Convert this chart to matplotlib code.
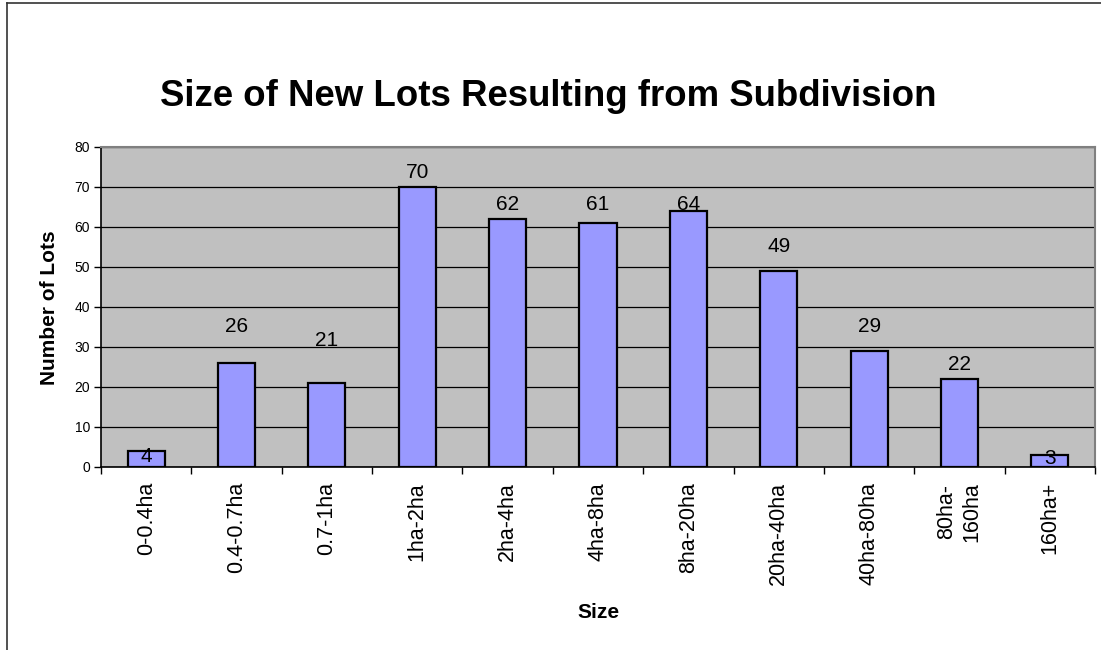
import matplotlib
matplotlib.use("Agg")
import matplotlib.pyplot as plt
from matplotlib.lines import Line2D

plt.rcParams['font.family'] = ['Liberation Sans', 'DejaVu Sans']

categories = ["0-0.4ha", "0.4-0.7ha", "0.7-1ha", "1ha-2ha", "2ha-4ha", "4ha-8ha",
              "8ha-20ha", "20ha-40ha", "40ha-80ha", "80ha-\n160ha", "160ha+"]
values = [4, 26, 21, 70, 62, 61, 64, 49, 29, 22, 3]
yticks = [0, 10, 20, 30, 40, 50, 60, 70, 80]
# vertical offset of each value label above its bar top (pixels)
label_offsets_px = [-5, 36, 42, 15, 14, 18, 6, 24, 25, 15, -4]

W, H, DPI = 1101, 650, 100
fig = plt.figure(figsize=(W / DPI, H / DPI), dpi=DPI)
fig.patch.set_facecolor('white')

ax = fig.add_axes([101 / W, 1 - 467 / H, (1095 - 101) / W, (467 - 147) / H])
ax.set_facecolor('#C0C0C0')

x = list(range(len(categories)))
ax.set_axisbelow(True)
ax.yaxis.grid(True, color='black', linewidth=0.9)
ax.bar(x, values, width=0.41, color='#9999FF', edgecolor='black', linewidth=1.6, zorder=3)

ax.set_xlim(-0.5, len(categories) - 0.5)
ax.set_ylim(0, 80)
ax.set_yticks(yticks)
ax.set_yticklabels([str(t) for t in yticks], fontsize=10)
ax.tick_params(axis='y', direction='out', length=5, width=1, pad=3)

ax.set_xticks([i - 0.5 for i in range(len(categories) + 1)])
ax.set_xticklabels([])
ax.tick_params(axis='x', direction='out', length=5, width=1)
for i, lab in enumerate(categories):
    ax.annotate(lab, xy=(i, 0), xycoords=('data', 'axes fraction'),
                xytext=(0, -15 * 0.72), textcoords='offset points',
                rotation=90, ha='center', va='top', fontsize=15.5,
                multialignment='center', linespacing=1.3)

for spine in ['top', 'right']:
    ax.spines[spine].set_color('#808080')
    ax.spines[spine].set_linewidth(1.5)
for spine in ['left', 'bottom']:
    ax.spines[spine].set_color('black')
    ax.spines[spine].set_linewidth(1.2)

for i, v in enumerate(values):
    ax.annotate(str(v), xy=(i, v), xytext=(0, label_offsets_px[i] * 0.72),
                textcoords='offset points', ha='center', va='center',
                fontsize=15, zorder=4)

fig.text(548 / W, 1 - 96 / H, "Size of New Lots Resulting from Subdivision",
         ha='center', va='center', fontsize=26.4, fontweight='bold')
fig.text(50 / W, 1 - 308 / H, "Number of Lots", rotation=90,
         ha='center', va='center', fontsize=15, fontweight='bold')
fig.text(598 / W, 1 - 612 / H, "Size", ha='center', va='center',
         fontsize=15, fontweight='bold')

# chart frame (left and top edges visible)
fig.add_artist(Line2D([7 / W, 7 / W], [0, 1 - 2.5 / H], transform=fig.transFigure,
                      color='#333333', linewidth=1.2))
fig.add_artist(Line2D([7 / W, 1], [1 - 2.5 / H, 1 - 2.5 / H], transform=fig.transFigure,
                      color='#333333', linewidth=1.2))

fig.savefig("out.png", dpi=DPI)
